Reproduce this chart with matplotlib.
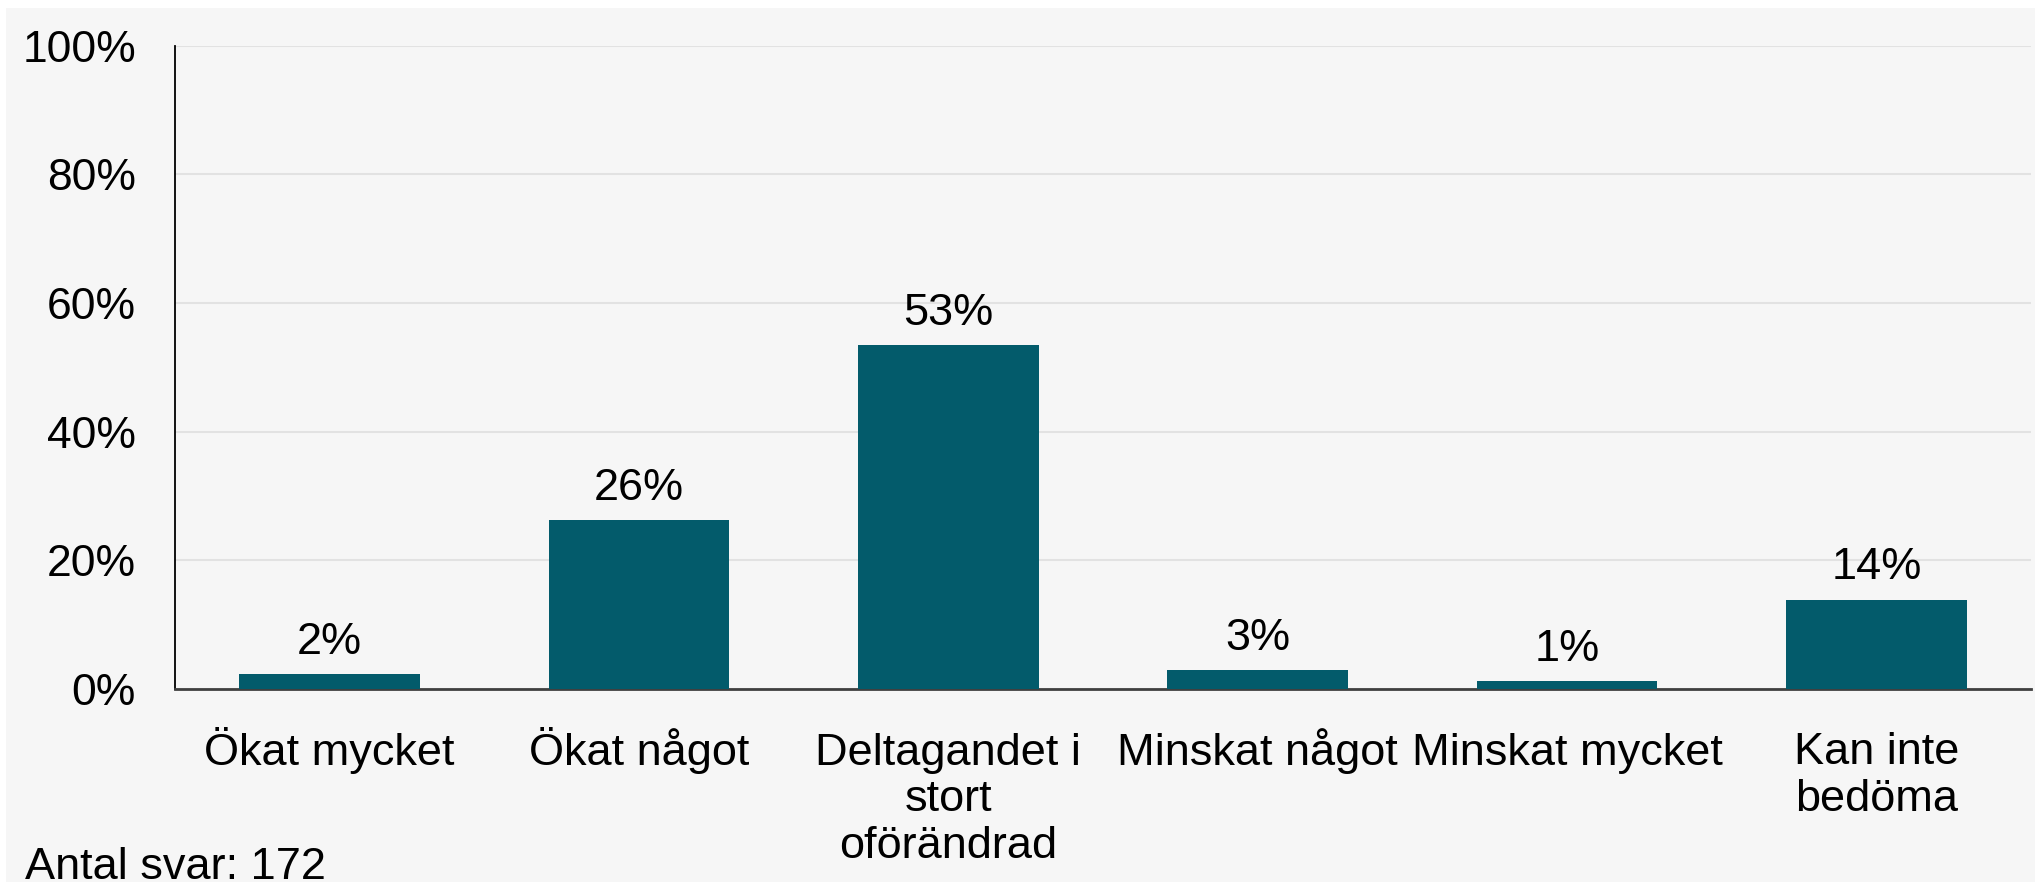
import matplotlib
matplotlib.use("Agg")
import matplotlib.pyplot as plt
import matplotlib.transforms as mtransforms
from matplotlib.patches import Rectangle

categories = ["Ökat mycket", "Ökat något", "Deltagandet i\nstort\noförändrad",
              "Minskat något", "Minskat mycket", "Kan inte\nbedöma"]
values = [2.3, 26.2, 53.5, 2.9, 1.2, 13.9]
labels = ["2%", "26%", "53%", "3%", "1%", "14%"]
yticks = [0, 20, 40, 60, 80, 100]
yticklabels = ["0%", "20%", "40%", "60%", "80%", "100%"]
note = "Antal svar: 172"

plt.rcParams['font.family'] = ['Liberation Sans', 'DejaVu Sans']

W, H = 2035, 882
fig = plt.figure(figsize=(W / 100, H / 100), dpi=100)
fig.patch.set_facecolor("white")
fig.patches.append(Rectangle((6 / W, 0), 1 - 6 / W, (H - 8) / H,
                             transform=fig.transFigure, facecolor="#f6f6f6",
                             edgecolor="none", zorder=-10))

ax = fig.add_axes([175 / W, 193 / H, (2031 - 175) / W, (689 - 45.7) / H])
ax.patch.set_alpha(0)

x = list(range(len(categories)))
bars = ax.bar(x, values, width=0.585, color="#035b6b", zorder=3)

for xi, v, lab in zip(x, values, labels):
    ax.annotate(lab, (xi, v), xytext=(0, 8), textcoords="offset points",
                ha="center", va="bottom", fontsize=32.5, color="black")

ax.set_xlim(-0.5, len(categories) - 0.5)
ax.set_ylim(0, 100)
ax.set_yticks(yticks)
ax.set_yticklabels(yticklabels, fontsize=32)
ax.set_xticks(x)
ax.set_xticklabels(categories, fontsize=32.5, linespacing=1.18)
ax.tick_params(axis="y", length=0, pad=28)
ax.tick_params(axis="x", length=0, pad=27)

# align the first-line baselines of all category labels (accents make
# matplotlib push some lines down)
renderer = fig.canvas.get_renderer()
ticklabs = ax.get_xticklabels()
ascents = []
for t in ticklabs:
    prop = t.get_fontproperties()
    first = t.get_text().split("\n")[0]
    _, h, d = renderer.get_text_width_height_descent(first, prop, ismath=False)
    _, hl, dl = renderer.get_text_width_height_descent("lp", prop, ismath=False)
    ascents.append(max(h, hl) - max(d, dl))
amax = max(ascents)
for t, a in zip(ticklabs, ascents):
    dy = (amax - a) * 72 / fig.dpi
    if dy > 0:
        shift = mtransforms.ScaledTranslation(0, -dy / 72, fig.dpi_scale_trans)
        t.set_transform(t.get_transform() + shift)

ax.grid(axis="y", color="#e2e2e2", linewidth=1.5, zorder=0)
ax.set_axisbelow(True)
for s in ["top", "right"]:
    ax.spines[s].set_visible(False)
ax.spines["left"].set_color("black")
ax.spines["left"].set_linewidth(1.3)
ax.spines["bottom"].set_color("#404040")
ax.spines["bottom"].set_linewidth(2)

fig.text(25 / W, 1 - 847 / H, note, fontsize=32.5, ha="left", va="top")

fig.savefig("out.png", dpi=100, facecolor=fig.get_facecolor())
